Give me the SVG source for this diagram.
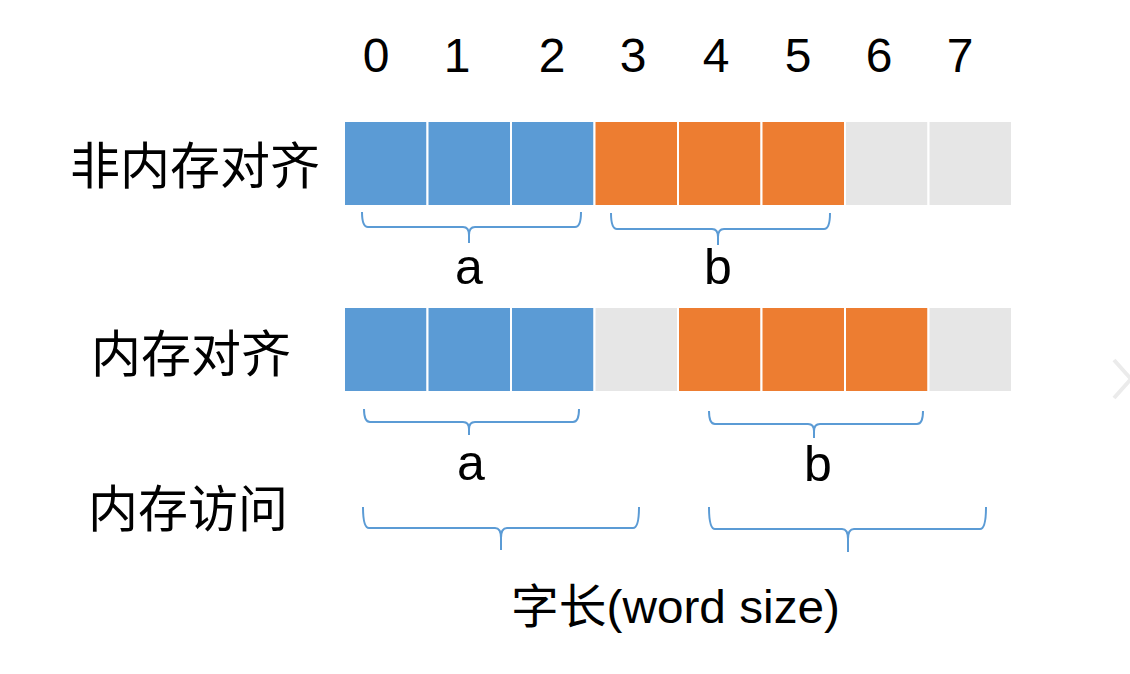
<svg xmlns="http://www.w3.org/2000/svg" width="1130" height="674" viewBox="0 0 1130 674">
  <style>
    .lbl { font-family: "Liberation Sans", "Noto Sans CJK SC", sans-serif; fill: #000; }
    .cjk { font-family: "Noto Sans CJK SC", "Liberation Sans", sans-serif; font-size: 50px; text-anchor: middle; fill: #000; }
    .num { font-family: "Liberation Sans", "Noto Sans CJK SC", sans-serif; font-size: 48px; text-anchor: middle; fill: #000; }
    .var { font-family: "Liberation Sans", sans-serif; font-size: 50px; text-anchor: middle; fill: #000; }
    .b { fill: #5B9BD5; stroke: #fff; stroke-width: 2; }
    .o { fill: #ED7D31; stroke: #fff; stroke-width: 2; }
    .g { fill: #E6E6E6; stroke: #fff; stroke-width: 2; }
    .brace { fill: none; stroke: #5B9BD5; stroke-width: 2; stroke-linejoin: round; }
  </style>
  <rect width="1130" height="674" fill="#fff"/>

  <g id="indices">
    <text class="num" x="376" y="72">0</text>
    <text class="num" x="457" y="72">1</text>
    <text class="num" x="552" y="72">2</text>
    <text class="num" x="633" y="72">3</text>
    <text class="num" x="716" y="72">4</text>
    <text class="num" x="798" y="72">5</text>
    <text class="num" x="879" y="72">6</text>
    <text class="num" x="960" y="72">7</text>
  </g>

  <g id="label-unaligned">
    <text class="cjk" x="195" y="184">非内存对齐</text>
  </g>
  <g id="label-aligned">
    <text class="cjk" x="191" y="372">内存对齐</text>
  </g>
  <g id="label-access">
    <text class="cjk" x="188" y="527">内存访问</text>
  </g>

  <g id="row-unaligned">
    <rect class="b" x="344" y="121" width="83.5" height="85"/>
    <rect class="b" x="427.5" y="121" width="83.5" height="85"/>
    <rect class="b" x="511" y="121" width="83.5" height="85"/>
    <rect class="o" x="594.5" y="121" width="83.5" height="85"/>
    <rect class="o" x="678" y="121" width="83.5" height="85"/>
    <rect class="o" x="761.5" y="121" width="83.5" height="85"/>
    <rect class="g" x="845" y="121" width="83.5" height="85"/>
    <rect class="g" x="928.5" y="121" width="83.5" height="85"/>
  </g>

  <g id="row-aligned">
    <rect class="b" x="344" y="307" width="83.5" height="85"/>
    <rect class="b" x="427.5" y="307" width="83.5" height="85"/>
    <rect class="b" x="511" y="307" width="83.5" height="85"/>
    <rect class="g" x="594.5" y="307" width="83.5" height="85"/>
    <rect class="o" x="678" y="307" width="83.5" height="85"/>
    <rect class="o" x="761.5" y="307" width="83.5" height="85"/>
    <rect class="o" x="845" y="307" width="83.5" height="85"/>
    <rect class="g" x="928.5" y="307" width="83.5" height="85"/>
  </g>

  <g id="connectors">
    <path class="brace" d="M362,212 Q362,227 368,227 L463,227 Q469,227 469,235 L469,243 M469,235 Q469,227 475,227 L575,227 Q581,227 581,212"/>
    <path class="brace" d="M611,213 Q611,229 617,229 L712,229 Q718,229 718,237 L718,245 M718,237 Q718,229 724,229 L824,229 Q830,229 830,213"/>
    <path class="brace" d="M364,409 Q364,422 370,422 L463,422 Q469,422 469,429 L469,435 M469,429 Q469,422 475,422 L573,422 Q579,422 579,409"/>
    <path class="brace" d="M709,411 Q709,424 715,424 L808,424 Q814,424 814,431 L814,438 M814,431 Q814,424 820,424 L917,424 Q923,424 923,411"/>
    <path class="brace" d="M363,507 Q363,528 369,528 L495,528 Q501,528 501,538 L501,550 M501,538 Q501,528 507,528 L633,528 Q639,528 639,507"/>
    <path class="brace" d="M709,507 Q709,529 715,529 L842,529 Q848,529 848,539 L848,552 M848,539 Q848,529 854,529 L980,529 Q986,529 986,507"/>
  </g>

  <g id="var-a1"><text class="var" x="469" y="284">a</text></g>
  <g id="var-b1"><text class="var" x="718" y="284">b</text></g>
  <g id="var-a2"><text class="var" x="471" y="480">a</text></g>
  <g id="var-b2"><text class="var" x="818" y="481">b</text></g>

  <g id="word-size">
    <text class="lbl" x="511" y="623" font-size="47" textLength="329" lengthAdjust="spacingAndGlyphs">字长(word size)</text>
  </g>

  <g id="nav-chevron">
    <polyline points="1114,360 1131,379 1114,398" fill="none" stroke="#EBEBEB" stroke-width="4"/>
  </g>
</svg>
